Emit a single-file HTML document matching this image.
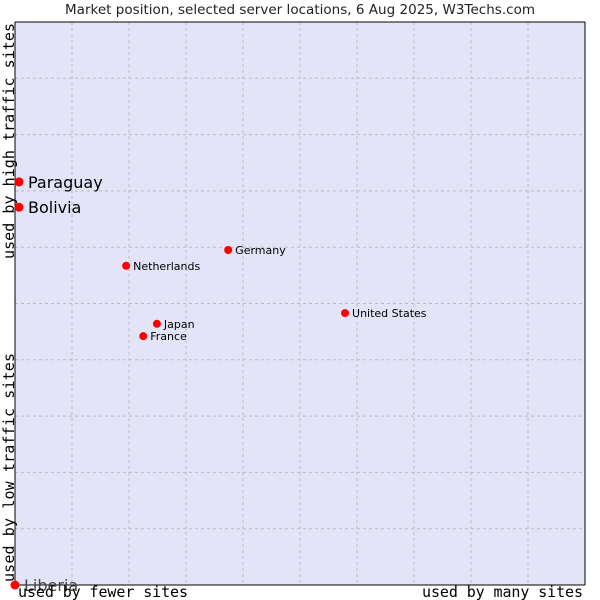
<!DOCTYPE html>
<html><head><meta charset="utf-8"><style>body{margin:0;background:#fff}svg{display:block}</style></head>
<body>
<svg id="c" width="600" height="600" xmlns="http://www.w3.org/2000/svg">
<rect x="0" y="0" width="600" height="600" fill="#fff"/>
<text x="300" y="14" text-anchor="middle" textLength="470" font-family="DejaVu Sans, sans-serif" font-size="13.5" fill="#222">Market position, selected server locations, 6 Aug 2025, W3Techs.com</text>
<rect x="15" y="22" width="570" height="563" fill="#e4e4f8"/>
<g id="grid" stroke="#bbb" stroke-dasharray="3,3" stroke-width="1"></g>
<line x1="15" y1="22" x2="585" y2="22" stroke="#000"/>
<line x1="15" y1="22" x2="15" y2="585" stroke="#000"/>
<line x1="15" y1="585" x2="585" y2="585" stroke="#000"/>
<line x1="585" y1="22" x2="585" y2="585" stroke="#000"/>
<g id="pts"></g>
<text x="18" y="597" textLength="170" font-family="DejaVu Sans Mono, monospace" font-size="15" fill="#000">used by fewer sites</text>
<text x="583" y="597" text-anchor="end" textLength="161" font-family="DejaVu Sans Mono, monospace" font-size="15" fill="#000">used by many sites</text>
<text transform="translate(14,582) rotate(-90)" textLength="229" font-family="DejaVu Sans Mono, monospace" font-size="15" fill="#000">used by low traffic sites</text>
<text transform="translate(14,259) rotate(-90)" textLength="236" font-family="DejaVu Sans Mono, monospace" font-size="15" fill="#000">used by high traffic sites</text>
</svg>
<script>
const names=["Paraguay","Bolivia","Netherlands","Germany","United States","Japan","France","Liberia"];
const xVals=[0.7,0.7,19.5,37.4,57.9,24.9,22.5,0];
const yVals=[71.6,67.1,56.7,59.5,48.3,46.4,44.2,0];
const big=[true,true,false,false,false,false,false,true];
const NS="http://www.w3.org/2000/svg";
const X=v=>15+v/100*570, Y=v=>585-v/100*563;
const g=document.getElementById('grid');
for(let i=1;i<10;i++){
 const l=document.createElementNS(NS,'line');
 l.setAttribute('x1',15+57*i);l.setAttribute('x2',15+57*i);l.setAttribute('y1',22);l.setAttribute('y2',585);
 
 
 g.appendChild(l);
 const h=document.createElementNS(NS,'line');
 const y=22+563/10*i;
 h.setAttribute('x1',15);h.setAttribute('x2',585);h.setAttribute('y1',y);h.setAttribute('y2',y);
 
 
 g.appendChild(h);
}
const p=document.getElementById('pts');
names.forEach((n,i)=>{
 const cx=X(xVals[i]),cy=Y(yVals[i]);
 const c=document.createElementNS(NS,'circle');
 c.setAttribute('cx',cx);c.setAttribute('cy',cy);c.setAttribute('r',big[i]?4.5:4);c.setAttribute('fill','#f00');
 
 
 p.appendChild(c);
 const t=document.createElementNS(NS,'text');
 t.setAttribute('x',cx+(big[i]?9:7));t.setAttribute('y',cy+(big[i]?6:4));
 t.setAttribute('font-family','DejaVu Sans, sans-serif');t.setAttribute('font-size',big[i]?16:11);
 t.setAttribute('fill',n==="Liberia"?'#444':'#000');
 t.textContent=n;
 
 
 p.appendChild(t);
});
</script>
</body></html>
